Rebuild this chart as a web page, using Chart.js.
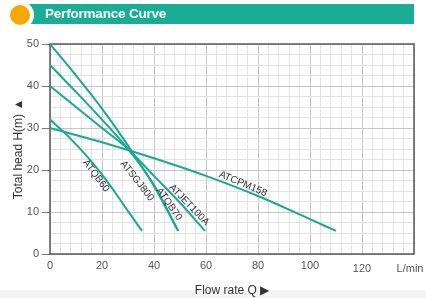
<!DOCTYPE html>
<html>
<head>
<meta charset="utf-8">
<script src="https://cdn.jsdelivr.net/npm/chart.js@4/dist/chart.umd.min.js"></script>
<style>
  html, body { margin: 0; padding: 0; background: #fff; }
  #wrap { position: relative; width: 426px; height: 298px; overflow: hidden; background: #fff; }
  #band { position: absolute; left: 29px; top: 4px; width: 385px; height: 20px; background: #19ad96; }
  #ring { position: absolute; left: 6px; top: 1px; width: 28px; height: 28px; border-radius: 50%; background: #fff; }
  #dot { position: absolute; left: 10px; top: 5px; width: 20px; height: 20px; border-radius: 50%; background: #f5a800; }
  #title { position: absolute; left: 45px; top: 4px; height: 20px; line-height: 20px; color: #fff;
           font-family: "Liberation Sans", Arial, sans-serif; font-weight: bold; font-size: 13.5px; letter-spacing: -0.2px; }
  #foot { position: absolute; left: 0; top: 290px; width: 426px; height: 8px; background: #f2f4f6; }
  canvas { position: absolute; left: 0; top: 0; }
</style>
</head>
<body>
<div id="wrap">
  <div id="foot"></div>
  <canvas id="c" width="426" height="298"></canvas>
  <div id="band"></div>
  <div id="ring"></div>
  <div id="dot"></div>
  <div id="title">Performance Curve</div>
</div>
<script>
// ---- data ----
const xTickValues = [0, 20, 40, 60, 80, 100, 120];
const yTickValues = [0, 10, 20, 30, 40, 50];
const unitLabel = "L/min";

const seriesNames = ["ATQB60", "ATSGJ800", "ATQB70", "ATJET100A", "ATCPM158"];

const flowATQB60 = [0, 5, 10, 15, 20, 25, 30, 35.4];
const headATQB60 = [32, 29.2, 26.1, 22.7, 18.9, 14.7, 10.2, 5.5];

const flowATSGJ800 = [0, 10, 20, 30, 40, 49.3];
const headATSGJ800 = [50, 42.5, 34.6, 25.8, 16.2, 5.5];

const flowATQB70 = [0, 10, 20, 30, 40, 49.3];
const headATQB70 = [45, 38.6, 32.0, 25.0, 16.4, 5.5];

const flowATJET100A = [0, 10, 20, 30, 40, 50, 59.6];
const headATJET100A = [40, 35.0, 30.0, 25.0, 18.6, 12.2, 5.5];

const flowATCPM158 = [0, 20, 40, 60, 80, 100, 110];
const headATCPM158 = [30, 26.6, 22.8, 18.6, 13.8, 8.3, 5.5];

// label anchor (data coords) and angle (deg)
const labelX = [17.7, 33.5, 45.8, 53.5, 74.2];
const labelY = [18.6, 17.4, 11.9, 11.7, 16.7];
const labelAngle = [53, 52, 55, 46, 23];

// ---- build ----
const flows = [flowATQB60, flowATSGJ800, flowATQB70, flowATJET100A, flowATCPM158];
const heads = [headATQB60, headATSGJ800, headATQB70, headATJET100A, headATCPM158];
const lineColor = "#1aa98f";

const datasets = seriesNames.map((n, i) => ({
  label: n,
  data: flows[i].map((x, j) => ({ x: x, y: heads[i][j] })),
  showLine: true,
  borderColor: lineColor,
  borderWidth: 2,
  pointRadius: 0,
  cubicInterpolationMode: "monotone",
  fill: false
}));

const FONT = "'Liberation Sans', Arial, sans-serif";

const decor = {
  id: "decor",
  beforeDatasetsDraw(chart) {
    const { ctx, chartArea: a } = chart;
    ctx.save();
    ctx.strokeStyle = "#5a5a5a";
    ctx.lineWidth = 1.5;
    ctx.strokeRect(a.left, a.top, a.right - a.left, a.bottom - a.top);
    ctx.restore();
  },
  afterDatasetsDraw(chart) {
    const { ctx, scales: { x, y } } = chart;
    ctx.save();
    ctx.fillStyle = "#333";
    ctx.font = "10px " + FONT;
    ctx.textAlign = "center";
    ctx.textBaseline = "middle";
    seriesNames.forEach((n, i) => {
      ctx.save();
      ctx.translate(x.getPixelForValue(labelX[i]), y.getPixelForValue(labelY[i]));
      ctx.rotate(labelAngle[i] * Math.PI / 180);
      ctx.fillText(n, 0, 0);
      ctx.restore();
    });
    // lower-set tick labels (120, unit)
    ctx.fillStyle = "#555";
    ctx.font = "11px " + FONT;
    const yy = y.bottom + 15;
    ctx.fillText(String(xTickValues[xTickValues.length - 1]), x.getPixelForValue(120), yy);
    ctx.fillText(unitLabel, x.getPixelForValue(140) - 4, yy);
    ctx.restore();
  }
};

new Chart(document.getElementById("c"), {
  type: "scatter",
  data: { datasets },
  options: {
    responsive: false,
    animation: false,
    devicePixelRatio: 1,
    layout: { padding: { left: 0, right: 12, top: 44, bottom: 0 } },
    plugins: { legend: { display: false }, tooltip: { enabled: false } },
    scales: {
      x: {
        type: "linear",
        min: 0, max: 140,
        ticks: {
          stepSize: 4,
          autoSkip: false,
          maxRotation: 0,
          padding: 5,
          color: "#555",
          font: { size: 11, family: FONT },
          callback: (v) => (xTickValues.includes(v) && v <= 100) ? String(v) : ""
        },
        grid: {
          drawTicks: false,
          color: (c) => (c.tick && c.tick.value % 20 === 0) ? "#c6c6c6" : "#e3e3e3",
          lineWidth: 1
        },
        border: { display: false },
        title: {
          display: true,
          text: "Flow rate Q \u25B6",
          color: "#333",
          font: { size: 12, family: FONT },
          padding: { top: 12, bottom: 0 }
        },
        afterFit: (s) => { s.height = 44; }
      },
      y: {
        type: "linear",
        min: 0, max: 50,
        ticks: {
          stepSize: 2.5,
          autoSkip: false,
          padding: 3,
          color: "#555",
          font: { size: 11, family: FONT },
          callback: (v) => yTickValues.includes(v) ? String(v) : ""
        },
        grid: {
          tickLength: 8,
          color: (c) => (c.tick && c.tick.value % 10 === 0) ? "#c6c6c6" : "#e3e3e3",
          tickColor: (c) => (c.tick && c.tick.value % 10 === 0) ? "#777" : "rgba(0,0,0,0)",
          lineWidth: 1
        },
        border: { display: false },
        title: {
          display: true,
          text: "Total head H(m) \u25B2",
          color: "#333",
          font: { size: 12, family: FONT },
          padding: { top: 11, bottom: 0 }
        },
        afterFit: (s) => { s.width = 50; }
      }
    }
  },
  plugins: [decor]
});
</script>
</body>
</html>
